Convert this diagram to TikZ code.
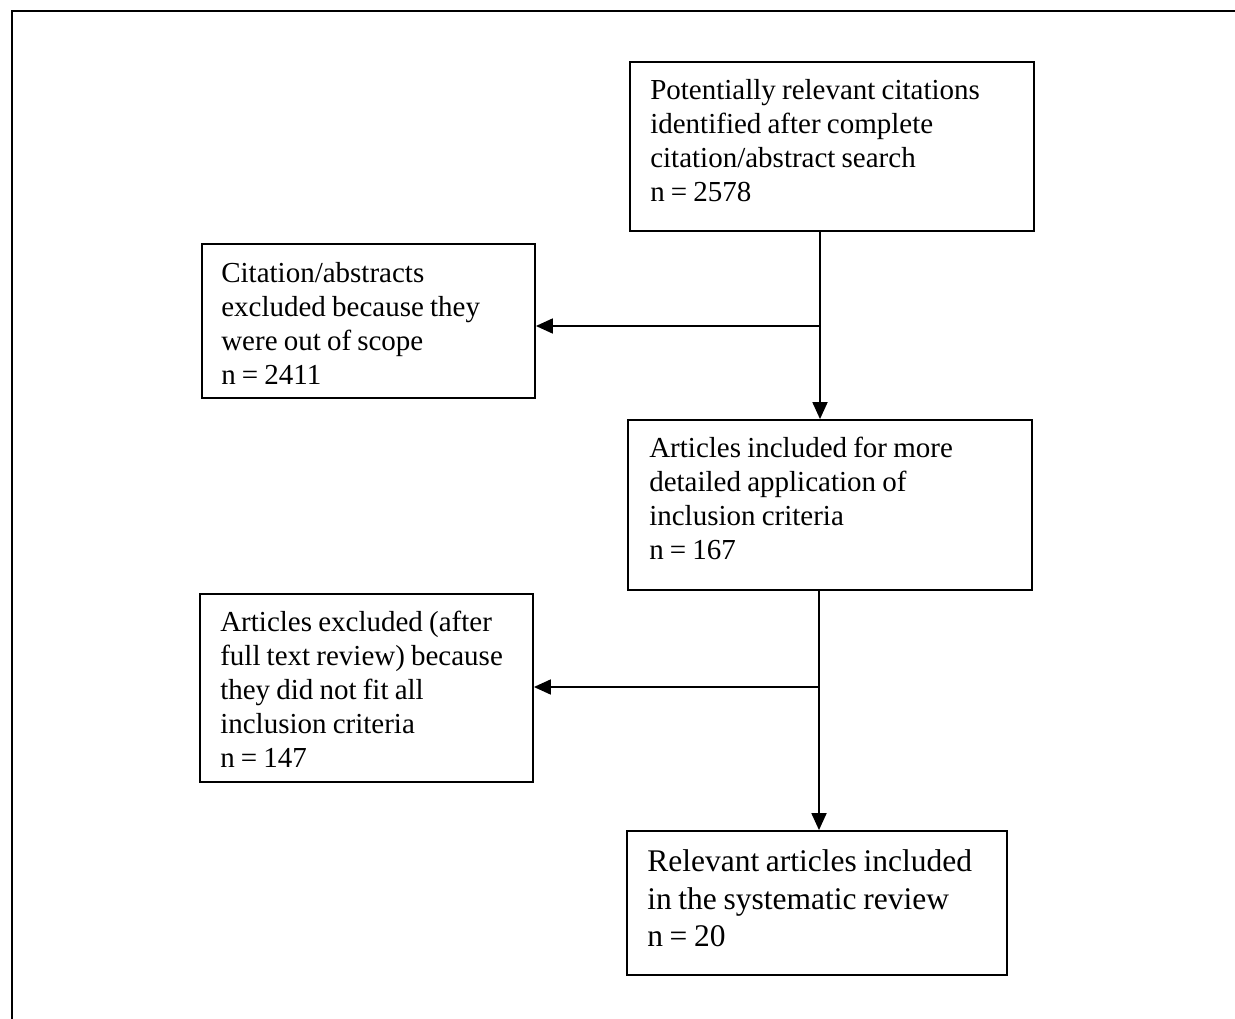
\documentclass[tikz,border=0pt]{standalone}
\usepackage{fontspec}
\setmainfont[WordSpace=0.85]{Liberation Serif}
\usetikzlibrary{arrows.meta}
\begin{document}
\begin{tikzpicture}[x=1pt,y=-1pt,
  box/.style={draw,line width=1.8pt,rectangle,inner sep=0pt},
  txt/.style={anchor=west,inner sep=0pt,align=left,font=\fontsize{29}{34}\selectfont},
  bigtxt/.style={txt,font=\fontsize{31.5}{37.5}\selectfont},
  arr/.style={line width=1.8pt,-{Triangle[length=17pt,width=15pt]}}]
\useasboundingbox (0,0) rectangle (1235,1019);
\fill[white] (0,0) rectangle (1235,1019);
\draw[line width=2.2pt] (12,1019) -- (12,11) -- (1235,11);
% boxes
\node[box,minimum width=404pt,minimum height=169pt] (b1) at (832,146.5) {};
\node[box,minimum width=333pt,minimum height=154pt] (b2) at (368.5,321) {};
\node[box,minimum width=404pt,minimum height=170pt] (b3) at (830,505) {};
\node[box,minimum width=333pt,minimum height=188pt] (b4) at (366.5,688) {};
\node[box,minimum width=380pt,minimum height=144pt] (b5) at (817,903) {};
% texts
\node[txt,xshift=21pt,yshift=6pt] (t1) at (b1.west)
  {Potentially relevant citations\\identified after complete\\citation/abstract search\\n = 2578};
\node[txt,xshift=20pt,yshift=-2pt] (t2) at (b2.west)
  {Citation/abstracts\\excluded because they\\were out of scope\\n = 2411};
\node[txt,xshift=22pt,yshift=7pt] (t3) at (b3.west)
  {Articles included for more\\detailed application of\\inclusion criteria\\n = 167};
\node[txt,xshift=21pt,yshift=-1pt] (t4) at (b4.west)
  {Articles excluded (after\\full text review) because\\they did not fit all\\inclusion criteria\\n = 147};
\node[bigtxt,xshift=21pt,yshift=4.5pt] (t5) at (b5.west)
  {Relevant articles included\\in the systematic review\\n = 20};
% connectors
\coordinate (j1) at (820,326);
\coordinate (j2) at (819,687);
\draw[arr] (j1 |- b1.south) -- (j1 |- b3.north);
\draw[arr] (j1) -- (b2.east |- j1);
\draw[arr] (j2 |- b3.south) -- (j2 |- b5.north);
\draw[arr] (j2) -- (b4.east |- j2);
\end{tikzpicture}
\end{document}
